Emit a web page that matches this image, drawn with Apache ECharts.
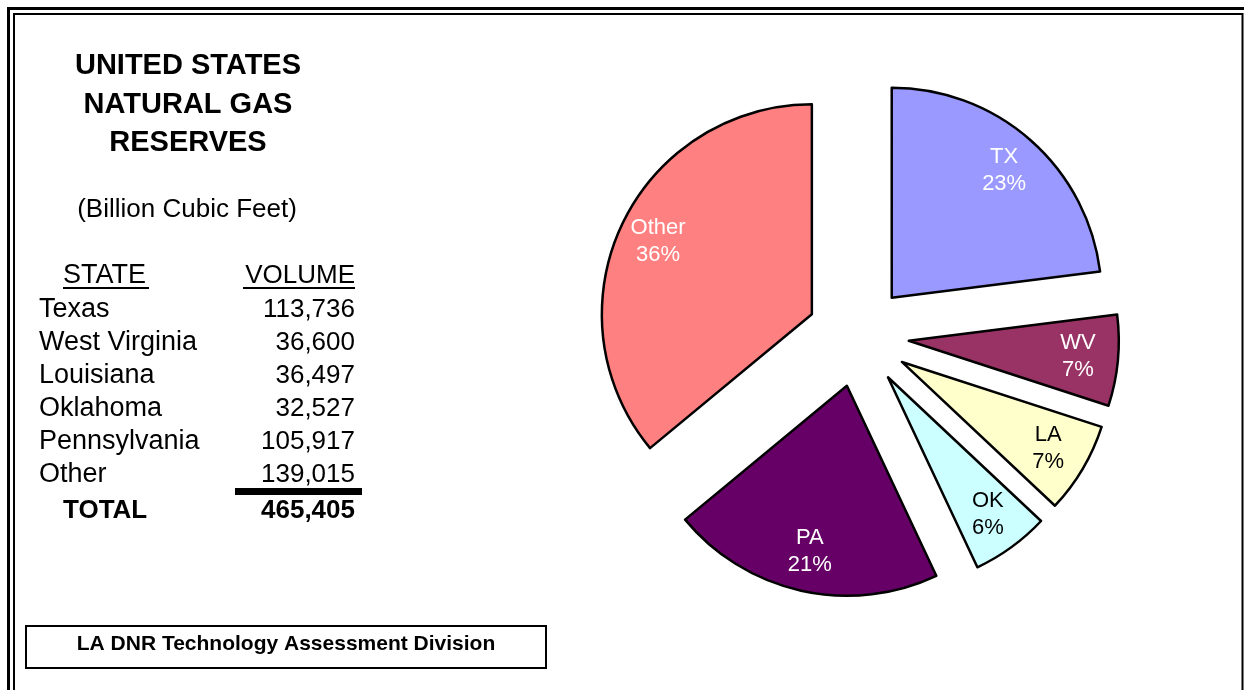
<!DOCTYPE html>
<html>
<head>
<meta charset="utf-8">
<title>United States Natural Gas Reserves</title>
<script src="https://cdn.jsdelivr.net/npm/echarts@6/dist/echarts.min.js"></script>
<style>
    html, body { margin: 0; padding: 0; background: #fff; }
    #main { width: 1244px; height: 690px; }
</style>
</head>
<body>
<div id="main"></div>
<script>
// table data
let states = ['Texas', 'West Virginia', 'Louisiana', 'Oklahoma', 'Pennsylvania', 'Other'];
let volumes = [113736, 36600, 36497, 32527, 105917, 139015];
let totalVolume = 465405;

// pie data (shares as drawn in the pie)
let abbrs = ['TX', 'WV', 'LA', 'OK', 'PA', 'Other'];
let pieShares = [23, 7, 7, 6, 21, 36];

let colors = ['#9999ff', '#993366', '#ffffcc', '#ccffff', '#660066', '#ff8080'];
let labelColors = ['#fff', '#fff', '#000', '#000', '#fff', '#fff'];

let fontFamily = '"Liberation Sans", Arial, sans-serif';
let fmt = v => v.toLocaleString('en-US');

let myChart = echarts.init(document.getElementById('main'), null, { renderer: 'canvas' });

function text(str, x, y, size, bold, align) {
    return {
        type: 'text',
        silent: true,
        style: {
            text: str,
            x: x,
            y: y,
            font: (bold ? 'bold ' : '') + size + 'px ' + fontFamily,
            fill: '#000',
            align: align || 'left',
            textAlign: align || 'left',
            verticalAlign: 'middle',
            textVerticalAlign: 'middle'
        }
    };
}

let graphics = [];
// double frame (right and bottom run off the page)
graphics.push({ type: 'rect', silent: true, shape: { x: 8.5, y: 8.5, width: 1250, height: 700 }, style: { fill: 'none', stroke: '#000', lineWidth: 3 } });
graphics.push({ type: 'rect', silent: true, shape: { x: 14, y: 14, width: 1228.5, height: 700 }, style: { fill: 'none', stroke: '#000', lineWidth: 2 } });

// title block
graphics.push(text('UNITED STATES', 188, 66, 29, true, 'center'));
graphics.push(text('NATURAL GAS', 188, 105, 29, true, 'center'));
graphics.push(text('RESERVES', 188, 143, 29, true, 'center'));
graphics.push(text('(Billion Cubic Feet)', 187, 210, 26, false, 'center'));

// table header
graphics.push(text('STATE', 63, 276, 27, false, 'left'));
graphics.push(text('VOLUME', 355, 276, 26, false, 'right'));
graphics.push({ type: 'line', silent: true, shape: { x1: 63, y1: 288, x2: 149, y2: 288 }, style: { stroke: '#000', lineWidth: 2 } });
graphics.push({ type: 'line', silent: true, shape: { x1: 243, y1: 288, x2: 355, y2: 288 }, style: { stroke: '#000', lineWidth: 2 } });

// table rows
for (let i = 0; i < states.length; i++) {
    let y = 310 + i * 33;
    graphics.push(text(states[i], 39, y, 27, false, 'left'));
    graphics.push(text(fmt(volumes[i]), 355, y, 26, false, 'right'));
}
graphics.push({ type: 'rect', silent: true, shape: { x: 235, y: 488, width: 127, height: 7 }, style: { fill: '#000' } });
graphics.push(text('TOTAL', 63, 511, 26, true, 'left'));
graphics.push(text(fmt(totalVolume), 355, 511, 26, true, 'right'));

// footer box
graphics.push({ type: 'rect', silent: true, shape: { x: 26, y: 626, width: 520, height: 42 }, style: { fill: '#fff', stroke: '#000', lineWidth: 2 } });
graphics.push(text('LA DNR Technology Assessment Division', 286, 644, 21, true, 'center'));

let sliceData = abbrs.map((name, i) => ({
    name: name,
    value: pieShares[i],
    selected: true,
    itemStyle: { color: colors[i] }
}));
let labelData = abbrs.map((name, i) => ({
    name: name,
    value: pieShares[i],
    selected: true,
    label: { color: labelColors[i] }
}));

let option = {
    backgroundColor: '#fff',
    animation: false,
    graphic: graphics,
    series: [{
        type: 'pie',
        center: [858, 336],
        radius: [0, 210],
        startAngle: 90,
        clockwise: true,
        selectedMode: 'multiple',
        selectedOffset: 51,
        silent: true,
        percentPrecision: 0,
        itemStyle: { borderColor: '#000', borderWidth: 2.5 },
        select: { itemStyle: { borderColor: '#000', borderWidth: 2.5 } },
        emphasis: { disabled: true },
        label: { show: false },
        labelLine: { show: false },
        data: sliceData
    }, {
        // transparent ring, only carries the labels further out in each slice
        type: 'pie',
        center: [858, 336],
        radius: [124, 210],
        startAngle: 90,
        clockwise: true,
        selectedMode: 'multiple',
        selectedOffset: 51,
        silent: true,
        percentPrecision: 0,
        itemStyle: { color: 'rgba(0,0,0,0)', borderWidth: 0 },
        select: { itemStyle: { color: 'rgba(0,0,0,0)', borderWidth: 0 } },
        emphasis: { disabled: true },
        label: {
            show: true,
            position: 'inside',
            formatter: '{b}\n{d}%',
            fontFamily: fontFamily,
            fontSize: 22,
            lineHeight: 27,
            align: 'center'
        },
        labelLine: { show: false },
        data: labelData
    }]
};

if (option && typeof option === 'object') {
    myChart.setOption(option, true);
}
</script>
</body>
</html>
